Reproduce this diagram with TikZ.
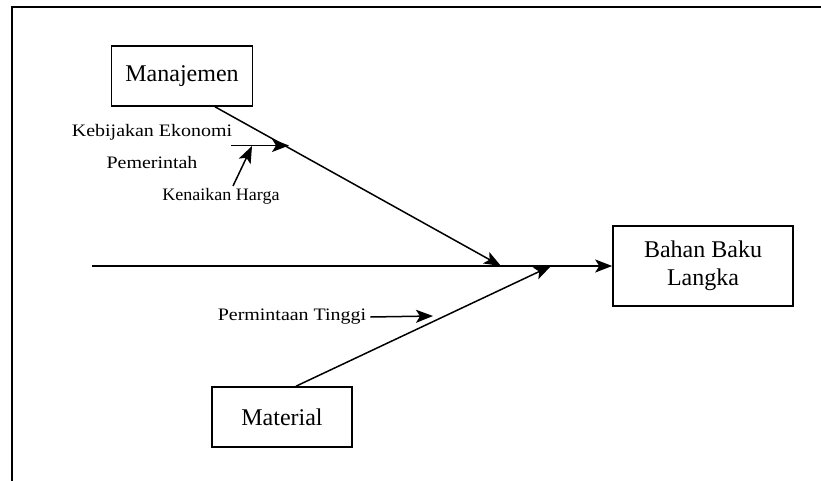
\documentclass[tikz,border=0pt]{standalone}
\usepackage{fontspec}
\setmainfont{Liberation Serif}
\newfontfamily\notefont{Liberation Serif}[FakeStretch=1.14]
\newfontfamily\notefontnarrow{Liberation Serif}[FakeStretch=1.03]
\usetikzlibrary{arrows.meta}
\begin{document}
\begin{tikzpicture}[x=1pt,y=-1pt,
  box/.style={draw, line width=1.6pt, minimum width=#1, inner sep=0pt, align=center,
              font=\fontsize{24}{28}\selectfont},
  bone/.style={line width=1.5pt, -{Stealth[length=17pt,width=13pt,inset=4pt]}},
  note/.style={inner sep=0pt, font=\notefont\fontsize{17.5}{20}\selectfont},
  frame/.style={line width=2.2pt}]
\useasboundingbox (0,0) rectangle (821,481);

% outer frame
\draw[frame] (12,481) -- (12,7) -- (821,7);

% category boxes and effect box
\node[box=141pt, minimum height=60pt] (man) at (182,76) {Manajemen};
\node[box=140pt, minimum height=60pt] (mat) at (282,417) {Material};
\node[box=180pt, minimum height=80pt] (bbl) at (703,266) {Bahan Baku\\Langka};

% spine
\coordinate (tail) at (92,266);
\coordinate (j1) at (501,266);
\coordinate (j2) at (551,266);
\draw[bone] (tail) -- (bbl.west);

% main bones
\draw[bone] ([xshift=33pt]man.south) -- (j1);
\draw[bone] ([xshift=14pt]mat.north) -- (j2);

% causes on the Manajemen bone
\node[note] (keb) at (152,132) {Kebijakan Ekonomi};
\node[note] (pem) at (152,163) {Pemerintah};
\node[note, font=\notefontnarrow\fontsize{17.5}{20}\selectfont] (ken) at (221,196) {Kenaikan Harga};
\coordinate (kstart) at (231,145.5);
\coordinate (kend) at (289,145.5);
\coordinate (hstart) at (233,186);
\coordinate (hend) at (252,146);
\draw[bone] (kstart) -- (kend);
\draw[bone] (hstart) -- (hend);

% cause on the Material bone
\node[note] (per) at (292,317) {Permintaan Tinggi};
\coordinate (pend) at (433,316);
\draw[bone] ([xshift=4pt]per.east) -- (pend);
\end{tikzpicture}
\end{document}
